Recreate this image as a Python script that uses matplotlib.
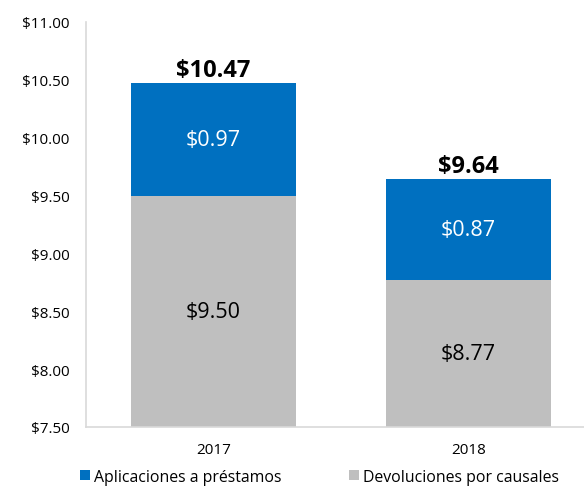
import matplotlib.pyplot as plt
from matplotlib.ticker import FuncFormatter, MultipleLocator

years = ['2017', '2018']
devoluciones = [9.50, 8.77]
aplicaciones = [0.97, 0.87]
totales = [10.47, 9.64]

plt.rcParams['font.family'] = ['Open Sans', 'DejaVu Sans']

fig = plt.figure(figsize=(5.84, 4.89), dpi=100)
ax = fig.add_axes([86/584, 1 - 428/489, 510/584, (428 - 23)/489])

base = 7.5
x = range(len(years))
gray = '#BFBFBF'
blue = '#0070C0'

b1 = ax.bar(x, [d - base for d in devoluciones], bottom=base, width=0.645,
            color=gray, label='Devoluciones por causales')
b2 = ax.bar(x, aplicaciones, bottom=devoluciones, width=0.645,
            color=blue, label='Aplicaciones a préstamos')

for i in x:
    ax.text(i, (base + devoluciones[i]) / 2, f'${devoluciones[i]:.2f}',
            ha='center', va='center', fontsize=15.5, color='black')
    ax.text(i, devoluciones[i] + aplicaciones[i] / 2, f'${aplicaciones[i]:.2f}',
            ha='center', va='center', fontsize=15.5, color='white')
    ax.text(i, totales[i] + 0.01, f'${totales[i]:.2f}', ha='center', va='bottom',
            fontsize=17, fontweight='bold', color='black')

ax.set_xlim(-0.5, 1.5)
ax.set_ylim(7.5, 11.0)
ax.yaxis.set_major_locator(MultipleLocator(0.5))
ax.yaxis.set_major_formatter(FuncFormatter(lambda v, p: f'${v:.2f}'))
ax.set_xticks(list(x))
ax.set_xticklabels(years)
ax.tick_params(axis='both', length=0, labelsize=11)
ax.tick_params(axis='y', pad=12)
ax.tick_params(axis='x', pad=11)

for s in ['top', 'right']:
    ax.spines[s].set_visible(False)
for s in ['left', 'bottom']:
    ax.spines[s].set_color('#D9D9D9')
    ax.spines[s].set_linewidth(1.2)

fig.legend(handles=[b2, b1], loc='lower left', bbox_to_anchor=(66/584, -0.022),
           ncol=2, frameon=False, fontsize=11.4, handlelength=0.6,
           handleheight=0.6, handletextpad=0.25, columnspacing=4.3)

fig.savefig('out.png', dpi=100)
